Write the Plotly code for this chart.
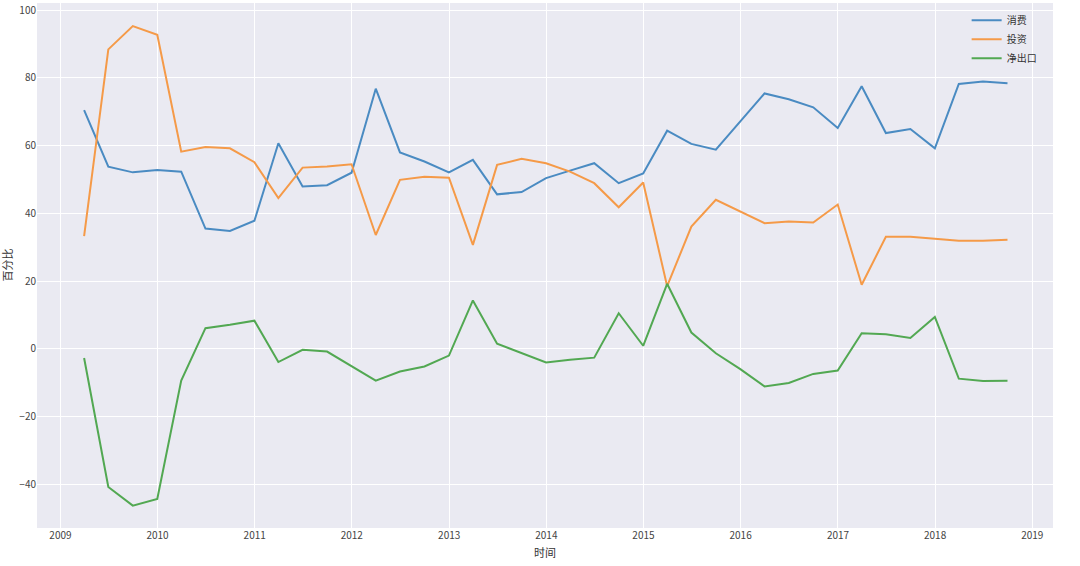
import plotly.graph_objects as go
import pandas as pd

dates = pd.date_range("2009-03-31", "2018-09-30", freq="QE")

consumption = [70.5, 53.8, 52.1, 52.8, 52.3, 35.5, 34.8, 37.8, 60.7, 47.9,
               48.3, 52.0, 76.8, 58.0, 55.3, 52.1, 55.8, 45.6, 46.3, 50.4,
               52.6, 54.8, 48.9, 51.8, 64.4, 60.5, 58.8, 67.1, 75.4, 73.7,
               71.3, 65.2, 77.5, 63.7, 64.9, 59.2, 78.2, 78.9, 78.4]
investment = [33.3, 88.4, 95.3, 92.7, 58.2, 59.6, 59.2, 55.1, 44.5, 53.5,
              53.8, 54.5, 33.6, 49.9, 50.8, 50.5, 30.7, 54.3, 56.1, 54.8,
              52.3, 48.9, 41.8, 49.1, 18.5, 36.1, 44.0, 40.5, 37.1, 37.6,
              37.3, 42.6, 18.9, 33.1, 33.1, 32.5, 31.9, 31.9, 32.2]
net_export = [-2.7, -40.8, -46.3, -44.3, -9.4, 6.1, 7.1, 8.3, -3.9, -0.3,
              -0.8, -5.2, -9.4, -6.7, -5.2, -2.0, 14.3, 1.5, -1.3, -4.0,
              -3.2, -2.6, 10.5, 0.9, 19.2, 4.8, -1.3, -6.0, -11.1, -10.1,
              -7.4, -6.4, 4.6, 4.3, 3.2, 9.4, -8.8, -9.5, -9.4]

series_names = ["消费", "投资", "净出口"]
colors = ["#4a8bc2", "#f59a48", "#52a852"]

year_ticks = [f"{y}-01-01" for y in range(2009, 2020)]
year_labels = [str(y) for y in range(2009, 2020)]

fig = go.Figure()
for name, vals, c in zip(series_names, [consumption, investment, net_export], colors):
    fig.add_trace(go.Scatter(x=dates, y=vals, mode="lines", name=name,
                             line=dict(color=c, width=2)))

font_family = "Noto Sans CJK SC, DejaVu Sans, sans-serif"
fig.update_layout(
    width=1080, height=566,
    margin=dict(l=37, r=27, t=3, b=38),
    paper_bgcolor="white",
    plot_bgcolor="#EAEAF2",
    font=dict(family=font_family, size=10, color="#444444"),
    showlegend=True,
    legend=dict(x=0.915, y=0.995, xanchor="left", yanchor="top",
                bgcolor="rgba(0,0,0,0)", itemwidth=30,
                font=dict(size=10, color="#333333")),
    xaxis=dict(
        range=["2008-10-05", "2019-03-20"],
        tickvals=year_ticks, ticktext=year_labels,
        showgrid=True, gridcolor="white", gridwidth=1.2,
        zeroline=False, showline=False,
        ticks="", tickfont=dict(size=10, color="#444444"),
        title=dict(text="时间", font=dict(size=11, color="#333333"), standoff=8),
    ),
    yaxis=dict(
        range=[-52.9, 102.1],
        tickvals=[-40, -20, 0, 20, 40, 60, 80, 100],
        showgrid=True, gridcolor="white", gridwidth=1.2,
        zeroline=False, showline=False,
        ticks="", tickfont=dict(size=10, color="#444444"),
    ),
    annotations=[dict(text="百分比", xref="paper", yref="paper", x=0, y=0.5,
                      xanchor="center", yanchor="middle", xshift=-31,
                      textangle=-90, showarrow=False,
                      font=dict(size=11, color="#333333"))],
)

fig.write_html("out.html")
